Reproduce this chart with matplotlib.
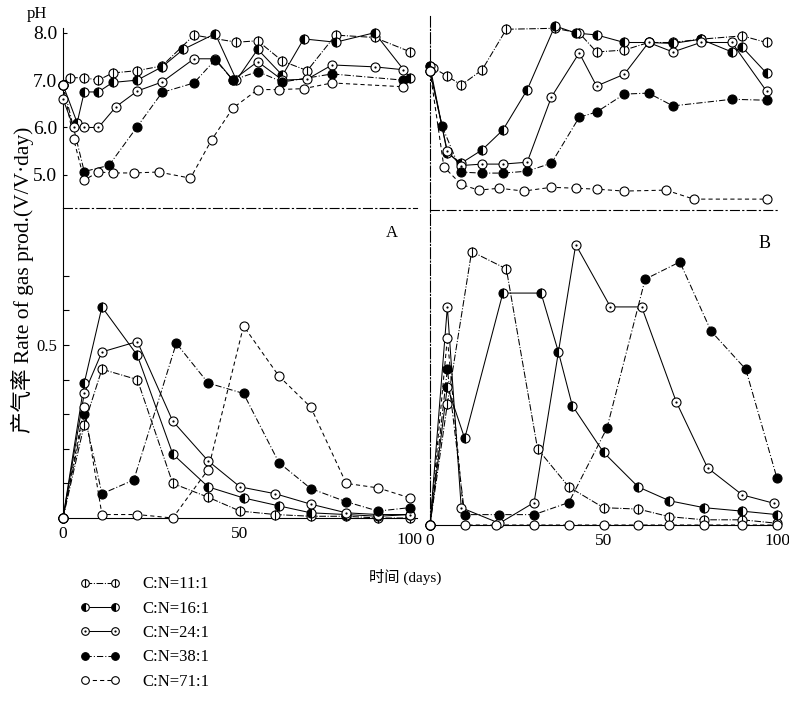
import matplotlib
matplotlib.use('Agg')
import matplotlib.pyplot as plt
import matplotlib.transforms as mtransforms
from matplotlib.lines import Line2D
from matplotlib.legend_handler import HandlerTuple

plt.rcParams['font.family'] = ['Liberation Serif', 'Noto Sans CJK SC', 'DejaVu Sans']

labels = ['C:N=11:1', 'C:N=16:1', 'C:N=24:1', 'C:N=38:1', 'C:N=71:1']

# pH, panel A (order: 11, 16, 24, 38, 71)
ph_a_days = [
    [0, 2, 6, 10, 14, 21, 28, 37, 49, 55, 62, 69, 77, 88, 98],
    [0, 4, 6, 10, 14, 21, 28, 34, 43, 49, 55, 62, 68, 77, 88, 98],
    [0, 3, 6, 10, 15, 21, 28, 37, 43, 48, 55, 62, 69, 76, 88, 96],
    [0, 6, 13, 21, 28, 37, 43, 48, 55, 62, 76, 96],
    [0, 3, 6, 10, 14, 20, 27, 36, 42, 48, 55, 61, 68, 76, 96],
]
ph_a = [
    [6.9, 7.05, 7.05, 7.0, 7.15, 7.2, 7.3, 7.95, 7.8, 7.83, 7.4, 7.2, 7.95, 7.9, 7.6],
    [6.9, 6.1, 6.75, 6.75, 6.95, 7.0, 7.28, 7.65, 7.98, 7.0, 7.65, 7.1, 7.87, 7.8, 8.0, 7.05],
    [6.6, 6.0, 6.0, 6.0, 6.44, 6.77, 6.96, 7.45, 7.45, 7.0, 7.39, 7.0, 7.02, 7.32, 7.28, 7.22],
    [6.9, 5.07, 5.2, 6.02, 6.74, 6.94, 7.43, 7.0, 7.18, 6.96, 7.13, 7.0],
    [6.9, 5.76, 4.89, 5.06, 5.04, 5.04, 5.06, 4.93, 5.74, 6.41, 6.8, 6.8, 6.82, 6.94, 6.86],
]

# pH, panel B
ph_b_days = [
    [0, 1, 5, 9, 15, 22, 36, 43, 48, 56, 63, 70, 78, 90, 97],
    [0, 5, 9, 15, 21, 28, 36, 42, 48, 56, 63, 70, 78, 87, 90, 97],
    [0, 5, 9, 15, 21, 28, 35, 43, 48, 56, 63, 70, 78, 87, 97],
    [0, 3.5, 9, 15, 21, 28, 35, 43, 48, 56, 63, 70, 87, 97],
    [0, 4, 9, 14, 20, 27, 35, 42, 48, 56, 68, 76, 97],
]
ph_b = [
    [7.3, 7.26, 7.09, 6.9, 7.22, 8.08, 8.1, 8.0, 7.6, 7.64, 7.8, 7.8, 7.87, 7.94, 7.8],
    [7.3, 5.46, 5.25, 5.53, 5.95, 6.8, 8.15, 8.0, 7.96, 7.8, 7.8, 7.78, 7.87, 7.6, 7.7, 7.15],
    [7.2, 5.5, 5.2, 5.23, 5.23, 5.27, 6.65, 7.58, 6.88, 7.13, 7.8, 7.6, 7.8, 7.8, 6.77],
    [7.2, 6.03, 5.06, 5.04, 5.04, 5.08, 5.25, 6.22, 6.33, 6.71, 6.73, 6.46, 6.6, 6.58],
    [7.2, 5.17, 4.8, 4.68, 4.72, 4.66, 4.74, 4.72, 4.7, 4.66, 4.68, 4.49, 4.49],
]

# gas production rate, panel A
gas_a_days = [
    [0, 6, 11, 21, 31, 41, 50, 60, 70, 80, 89, 98],
    [0, 6, 11, 21, 31, 41, 51, 61, 70, 80, 89, 98],
    [0, 6, 11, 21, 31, 41, 50, 60, 70, 80, 89, 98],
    [0, 6, 11, 20, 32, 41, 51, 61, 70, 80, 89, 98],
    [0, 6, 11, 21, 31, 41, 51, 61, 70, 80, 89, 98],
]
gas_a = [
    [0, 0.27, 0.43, 0.40, 0.10, 0.06, 0.02, 0.01, 0.005, 0.005, 0.0, 0.0],
    [0, 0.39, 0.61, 0.47, 0.185, 0.09, 0.058, 0.035, 0.015, 0.01, 0.005, 0.01],
    [0, 0.36, 0.48, 0.51, 0.28, 0.165, 0.09, 0.07, 0.04, 0.015, 0.01, 0.01],
    [0, 0.30, 0.07, 0.11, 0.505, 0.39, 0.36, 0.16, 0.085, 0.047, 0.02, 0.03],
    [0, 0.32, 0.01, 0.01, 0.0, 0.14, 0.555, 0.41, 0.32, 0.10, 0.087, 0.058],
]

# gas production rate, panel B
gas_b_days = [
    [0, 5, 12, 22, 31, 40, 50, 60, 69, 79, 90, 100],
    [0, 5, 10, 21, 32, 37, 41, 50, 60, 69, 79, 90, 100],
    [0, 5, 9, 20, 30, 42, 52, 61, 71, 80, 90, 99],
    [0, 5, 10, 20, 30, 40, 51, 62, 72, 81, 91, 100],
    [0, 5, 10, 19, 30, 40, 50, 60, 69, 79, 90, 100],
]
gas_b = [
    [0, 0.35, 0.79, 0.74, 0.22, 0.11, 0.05, 0.046, 0.024, 0.015, 0.015, 0.005],
    [0, 0.40, 0.25, 0.67, 0.67, 0.50, 0.345, 0.21, 0.11, 0.07, 0.05, 0.04, 0.03],
    [0, 0.63, 0.05, 0.005, 0.065, 0.81, 0.63, 0.63, 0.355, 0.165, 0.087, 0.063],
    [0, 0.45, 0.03, 0.03, 0.03, 0.065, 0.28, 0.71, 0.76, 0.56, 0.45, 0.135],
    [0, 0.54, 0.0, 0.0, 0.0, 0.0, 0.0, 0.0, 0.0, 0.0, 0.0, 0.0],
]

linestyles = ['-.', '-', '-', (0, (6, 2, 1, 2)), (0, (4, 3))]
MS = 6.5


def layers(i, ms):
    if i == 0:
        return [dict(marker='o', ms=ms, mfc='white', mec='k', mew=0.8),
                dict(marker='|', ms=ms, mec='k', mew=0.8)]
    if i == 1:
        return [dict(marker='o', ms=ms, fillstyle='left', mfc='k',
                     markerfacecoloralt='white', mec='k', mew=0.8)]
    if i == 2:
        return [dict(marker='o', ms=ms, mfc='white', mec='k', mew=0.8),
                dict(marker='o', ms=1.6, mfc='k', mec='k', mew=0)]
    if i == 3:
        return [dict(marker='o', ms=ms, mfc='k', mec='k', mew=0.8)]
    return [dict(marker='o', ms=ms, mfc='white', mec='k', mew=0.8)]


def draw(ax, days, vals):
    for i in range(5):
        ax.plot(days[i], vals[i], color='k', lw=0.75, ls=linestyles[i],
                zorder=2, clip_on=False)
        for lay in layers(i, MS):
            ax.plot(days[i], vals[i], ls='none', zorder=3, clip_on=False, **lay)


W, H = 789, 703
fig = plt.figure(figsize=(W / 100, H / 100), dpi=100)


def rect(x0, x1, ytop, ybot):
    return [x0 / W, 1 - ybot / H, (x1 - x0) / W, (ybot - ytop) / H]


axA_top = fig.add_axes(rect(63, 417, 28, 208))
axB_top = fig.add_axes(rect(430, 777, 16, 210))
axA_bot = fig.add_axes(rect(63, 417, 208, 518))
axB_bot = fig.add_axes(rect(430, 777, 210, 525))

axA_top.set_ylim(4.30, 8.10)
axB_top.set_ylim(4.26, 8.36)
axA_bot.set_ylim(0, 0.896)
axB_bot.set_ylim(0, 0.91)

draw(axA_top, ph_a_days, ph_a)
draw(axB_top, ph_b_days, ph_b)
draw(axA_bot, gas_a_days, gas_a)
draw(axB_bot, gas_b_days, gas_b)

for ax in (axA_top, axB_top, axA_bot, axB_bot):
    ax.set_xlim(0, 100)
    ax.patch.set_visible(False)
    ax.spines['top'].set_visible(False)
    ax.spines['right'].set_visible(False)
    for s in ax.spines.values():
        s.set_linewidth(0.8)

for ax in (axA_top, axB_top):
    ax.set_xticks([])
    ax.spines['bottom'].set_linestyle((0, (8, 3, 1, 3)))

axA_top.set_yticks([5, 6, 7, 8])
axA_top.set_yticklabels(['5.0', '6.0', '7.0', '8.0'])
axA_top.tick_params(axis='y', direction='in', length=3, labelsize=14, pad=4)
axA_top.text(-0.073, 1.08, 'pH', transform=axA_top.transAxes,
             ha='center', va='center', fontsize=12)

axB_top.set_yticks([])
axB_top.spines['left'].set_linestyle((0, (10, 2, 1, 2)))
axB_bot.spines['left'].set_linestyle((0, (10, 2, 1, 2)))

axA_bot.set_yticks([0.1, 0.2, 0.3, 0.4, 0.5, 0.6, 0.7])
axA_bot.set_yticklabels(['', '', '', '', '0.5', '', ''])
axA_bot.tick_params(axis='y', direction='in', length=4, labelsize=12, pad=4)
axB_bot.set_yticks([])

for ax in (axA_bot, axB_bot):
    ax.set_xticks([0, 50, 100])
    ax.set_xticklabels(['0', '50', '100'])
    ax.tick_params(axis='x', length=0, labelsize=12.5, pad=6)

# nudge the left "100" so it does not run into the right panel's "0"
shift = mtransforms.ScaledTranslation(-8 / 100, -6 / 100, fig.dpi_scale_trans)
lab100 = axA_bot.get_xticklabels()[-1]
lab100.set_transform(lab100.get_transform() + shift)

axA_bot.text(0.93, 0.92, 'A', transform=axA_bot.transAxes,
             ha='center', va='center', fontsize=12)
axB_bot.text(0.965, 0.895, 'B', transform=axB_bot.transAxes,
             ha='center', va='center', fontsize=13)

fig.text(22 / W, 1 - 280 / H, '产气率 Rate of gas prod.(V/V·day)',
         rotation=90, ha='center', va='center', fontsize=15.5)
fig.text(405 / W, 1 - 577 / H, '时间 (days)', ha='center', va='center',
         fontsize=11)

handles = []
for i in range(5):
    parts = []
    for j, lay in enumerate(layers(i, 5.5)):
        parts.append(Line2D([], [], color='k', lw=0.75,
                            ls=linestyles[i] if j == 0 else 'none', **lay))
    handles.append(tuple(parts))

fig.legend(handles, labels, loc='upper left',
           bbox_to_anchor=(72 / W, 1 - 568 / H),
           handler_map={tuple: HandlerTuple(ndivide=1)},
           numpoints=2, handlelength=2.4, labelspacing=0.5,
           frameon=False, fontsize=12, borderpad=0, handletextpad=1.3)

fig.savefig('out.png', dpi=100)
